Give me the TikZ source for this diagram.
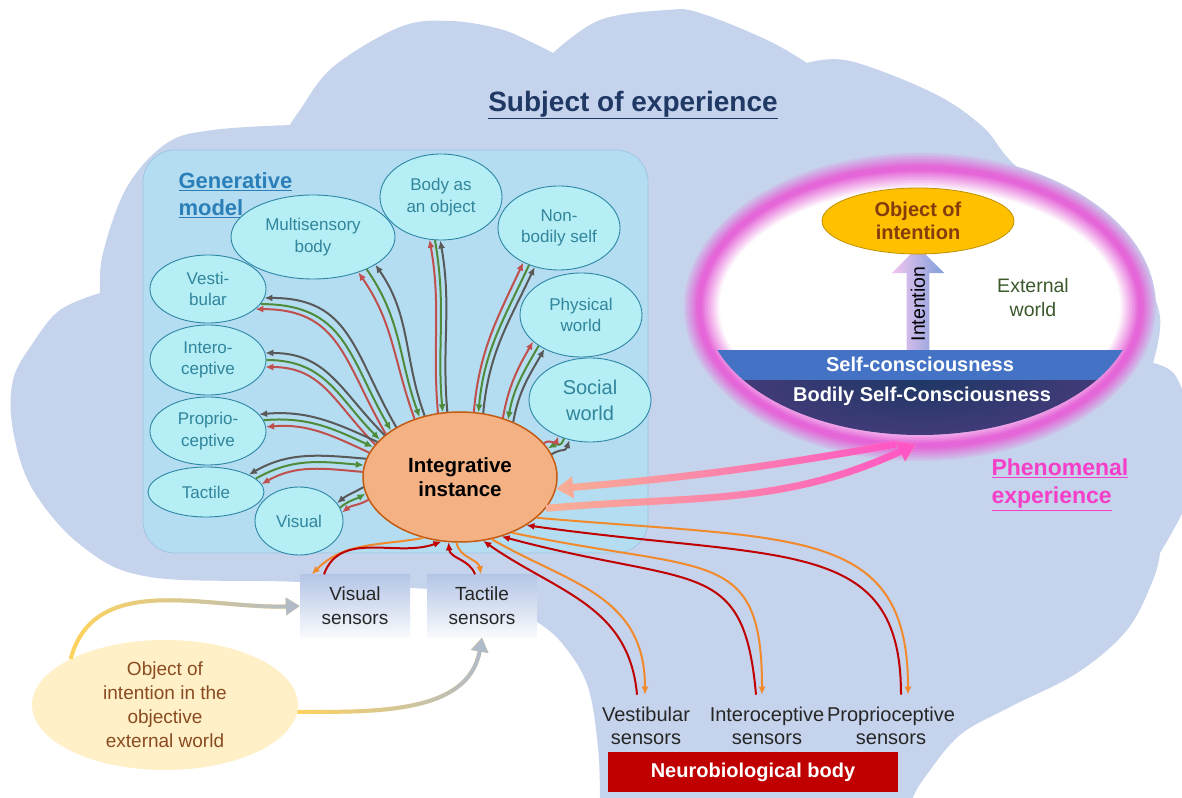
\documentclass[tikz,border=0pt]{standalone}
\usepackage{fontspec}
\setmainfont{Liberation Sans}
\usetikzlibrary{shapes.geometric,shapes.arrows,arrows.meta,fadings}

\definecolor{cloudc}{HTML}{C6D3EC}
\definecolor{gmfill}{HTML}{B4DDF1}
\definecolor{gmline}{HTML}{9EC6E2}
\definecolor{cyanfill}{HTML}{B5EEF4}
\definecolor{tealline}{HTML}{2E86A6}
\definecolor{tealtext}{HTML}{31859C}
\definecolor{gentext}{HTML}{2B7FB8}
\definecolor{titlec}{HTML}{1F3864}
\definecolor{iifill}{HTML}{F4B183}
\definecolor{iiline}{HTML}{C55A11}
\definecolor{lkgrayc}{HTML}{595959}
\definecolor{lkgreenc}{HTML}{4E8B3A}
\definecolor{lkredc}{HTML}{C0504D}
\definecolor{snorc}{HTML}{F08A2C}
\definecolor{snredc}{HTML}{C00000}
\definecolor{glowc}{HTML}{E566D8}
\definecolor{bandblue}{HTML}{4472C4}
\definecolor{bandnavy}{HTML}{1C3864}
\definecolor{bandpurple}{HTML}{8A3FA0}
\definecolor{oifill}{HTML}{FFC000}
\definecolor{oiline}{HTML}{BF9000}
\definecolor{oitext}{HTML}{843C0C}
\definecolor{extgreen}{HTML}{3C5A2C}
\definecolor{phenc}{HTML}{F53FC8}
\definecolor{sensboxc}{HTML}{B4C5E6}
\definecolor{objfill}{HTML}{FFF0C8}
\definecolor{objtext}{HTML}{8A4B20}
\definecolor{neuroc}{HTML}{C00000}
\definecolor{pinkarr}{HTML}{FF55C8}
\definecolor{peacharr}{HTML}{F8B193}
\definecolor{yelarr}{HTML}{FFD45C}
\definecolor{grayarr}{HTML}{B0BBCB}
\definecolor{inttop}{HTML}{7F9FDA}
\definecolor{intbot}{HTML}{F3C6F0}

\tikzfading[name=toright, left color=transparent!100, right color=transparent!0]

\newcommand{\fsz}[2]{\fontsize{#1}{#2}\selectfont}

\begin{document}
\begin{tikzpicture}[x=1pt, y=1pt, >={Latex[length=8pt,width=7pt]},
    gmnode/.style={ellipse, draw=tealline, line width=0.9pt, fill=cyanfill,
        text=tealtext, align=center, inner sep=0pt, font=\fsz{17}{21.5}},
    lkgray/.style={draw=lkgrayc, line width=2pt},
    lkgreen/.style={draw=lkgreenc, line width=2pt},
    lkred/.style={draw=lkredc, line width=2pt},
    snor/.style={draw=snorc, line width=2pt},
    snred/.style={draw=snredc, line width=2pt},
    sensbox/.style={rectangle, minimum width=110, minimum height=63,
        top color=sensboxc, bottom color=white!92!sensboxc, align=center,
        text=black!85, font=\fsz{19}{24}},
    senslabel/.style={align=center, inner sep=0pt, text=black!85, font=\fsz{20}{23.5}},
    bigarr/.style={line width=7pt, -{Triangle[length=17pt,width=21pt]}},
    objarr/.style={line width=4pt, -{Triangle[length=14pt,width=17pt]}}]

\fill[white] (0,0) rectangle (1182,797);
\useasboundingbox (0,0) rectangle (1182,797);

% cloud
\fill[cloudc]
  plot[smooth, tension=0.6] coordinates {(480,205) (300,215) (150,220) (83,250) (33,307) (13,367) (13,417) (33,454) (60,487) (100,504)}
  -- plot[smooth, tension=0.6] coordinates {(100,504) (103,544) (127,610) (167,654) (213,667) (290,672)}
  -- plot[smooth, tension=0.6] coordinates {(290,672) (300,687) (333,730) (400,770) (450,776) (500,768) (533,754) (553,744)}
  -- plot[smooth, tension=0.6] coordinates {(553,744) (600,777) (667,787) (700,784) (767,757) (807,734)}
  -- plot[smooth, tension=0.6] coordinates {(807,734) (850,736) (933,704) (983,670) (1017,630) (1100,567) (1140,527) (1160,480) (1153,434)}
  -- plot[smooth, tension=0.6] coordinates {(1153,434) (1175,422) (1190,380) (1195,330) (1185,290) (1160,244)}
  -- plot[smooth, tension=0.6] coordinates {(1160,244) (1153,217) (1127,167) (1077,124) (1010,90) (960,62) (925,20) (913,0) (910,-10)}
  -- (600,-10)
  -- plot[smooth, tension=0.6] coordinates {(600,-10) (600,0) (598,50) (588,110) (565,150) (537,175) (480,205)}
  -- cycle;

% generative model box
\node[rectangle, rounded corners=32pt, fill=gmfill, draw=gmline, line width=0.8pt,
      minimum width=505, minimum height=403] (gm) at (395.5,445.5) {};

% phenomenal glow
\foreach \k in {0,...,23}{
  \ifnum\k<9 \pgfmathsetmacro\pc{15+10*\k}\colorlet{gl}{glowc!\pc!cloudc}%
  \else\ifnum\k<12 \colorlet{gl}{glowc}%
  \else \pgfmathsetmacro\pc{100-8*(\k-11)}\colorlet{gl}{glowc!\pc!white}\fi\fi
  \fill[gl] (920,490) ellipse[x radius={236-1.5*\k}, y radius={154-1.5*\k}];
}
\fill[white] (920,490) ellipse[x radius=200, y radius=118];
\begin{scope}
  \clip (920,490) ellipse[x radius=215, y radius=128];
  \begin{scope}
    \clip (690,340) rectangle (1150,417);
    \shade[inner color=bandnavy, outer color=bandpurple] (420,250) rectangle (1420,590);
  \end{scope}
  \fill[bandblue] (690,417) rectangle (1150,447);
\end{scope}
\node[ellipse, minimum width=430, minimum height=256, inner sep=0pt] (pe) at (920,490) {};

% titles
\node[text=titlec, font=\bfseries\fsz{28}{32}] (title) at (633,692) {\underline{Subject of experience}};
\node[anchor=west, align=left, text=gentext, font=\bfseries\fsz{22}{27}] (gen) at (175,602)
  {\underline{Generative}\\\underline{model}};

% generative model
\node[gmnode, minimum width=164, minimum height=84] (mb) at (313,560) {Multisensory\\body};
\node[gmnode, minimum width=122, minimum height=86] (bo) at (441,600) {Body as\\an object};
\node[gmnode, minimum width=122, minimum height=84] (nb) at (559,569) {Non-\\bodily self};
\node[gmnode, minimum width=122, minimum height=84] (pw) at (581,482) {Physical\\world};
\node[gmnode, minimum width=122, minimum height=84, font=\fsz{20}{26}] (sw) at (590,397) {Social\\world};
\node[gmnode, minimum width=116, minimum height=68] (ve) at (208,508) {Vesti-\\bular};
\node[gmnode, minimum width=116, minimum height=70] (intero) at (208,437) {Intero-\\ceptive};
\node[gmnode, minimum width=116, minimum height=68] (pr) at (208,366) {Proprio-\\ceptive};
\node[gmnode, minimum width=116, minimum height=50] (ta) at (206,305) {Tactile};
\node[gmnode, minimum width=88, minimum height=68] (vi) at (299,276) {Visual};
\node[ellipse, draw=iiline, line width=1.5pt, fill=iifill, align=center, inner sep=0pt,
      minimum width=194, minimum height=130, font=\bfseries\fsz{20.5}{24}] (ii) at (460,320)
  {Integrative\\instance};

% phenomenal experience
\node[single arrow, rotate=90, anchor=tail, minimum height=103, single arrow head extend=15,
      inner sep=4pt, left color=intbot, right color=inttop, font=\fsz{19.5}{20}] (intent) at (918,447) {Intention};
\node[ellipse, draw=oiline, line width=0.8pt, fill=oifill, align=center, inner sep=0pt,
      minimum width=192, minimum height=66, text=oitext, font=\bfseries\fsz{20}{23}] (oi) at (918,576)
  {Object of\\intention};
\node[align=center, text=extgreen, font=\fsz{19.5}{24}] (ext) at (1033,499) {External\\world};
\node[text=white, font=\bfseries\fsz{20}{22}] (sc) at (920,433) {Self-consciousness};
\node[text=white, font=\bfseries\fsz{20}{22}] (bsc) at (922,401) {Bodily Self-Consciousness};
\node[anchor=west, align=left, text=phenc, font=\bfseries\fsz{23}{28}] (phen) at (988,312)
  {\underline{Phenomenal}\\\underline{experience}};

% sensors and body
\node[sensbox] (vs) at (355,191) {Visual\\sensors};
\node[sensbox] (ts) at (482,191) {Tactile\\sensors};
\node[ellipse, fill=objfill, align=center, inner sep=0pt, minimum width=266, minimum height=130,
      text=objtext, font=\fsz{19}{24}] (obj) at (165,92)
  {Object of\\intention in the\\objective\\external world};
\node[senslabel] (vb) at (646,71) {Vestibular\\sensors};
\node[senslabel] (intb) at (767,71) {Interoceptive\\sensors};
\node[senslabel] (pb) at (891,71) {Proprioceptive\\sensors};
\node[rectangle, fill=neuroc, minimum width=290, minimum height=40, text=white,
      font=\bfseries\fsz{20}{22}] (neuro) at (753,25) {Neurobiological body};

% links inside the generative model
\foreach \tg/\ta/\ia/\ou/\iu/\lo
  [evaluate=\ta as \tp using int(\ta+7), evaluate=\ta as \tm using int(\ta-7),
   evaluate=\ia as \ip using int(\ia+4), evaluate=\ia as \im using int(\ia-4)] in
  {mb/-31/124/-55/110/1, bo/262/105/-80/95/1, nb/231/74/-115/85/1,
   pw/216/50/-120/80/1, sw/236/18/-110/30/1.5, ve/-16/146/0/120/1.2,
   intero/0/155/0/135/1.1, pr/11/161/5/155/1, ta/15/173/30/175/1, vi/18/190/40/210/1}{
  \draw[lkgray,<-] (\tg.\tp) to[out=\ou,in=\iu,looseness=\lo] (ii.\im);
  \draw[lkgreen,->] (\tg.\ta) to[out=\ou,in=\iu,looseness=\lo] (ii.\ia);
  \draw[lkred,<-] (\tg.\tm) to[out=\ou,in=\iu,looseness=\lo] (ii.\ip);
}

% sensor links
\draw[snor,->] (ii.239) to[out=190,in=45] ([xshift=12]vs.north west);
\draw[snred,->] ([xshift=-31]vs.north) to[out=70,in=200] (ii.254);
\draw[snred,->] ([xshift=-7]ts.north) to[out=110,in=-85] (ii.260);
\draw[snor,->] (ii.267) to[out=-80,in=100] ([xshift=-1]ts.north);
\draw[snred,->] ([xshift=-9,yshift=12]vb.north) to[out=95,in=-35,out distance=90,in distance=90] (ii.290);
\draw[snor,->] (ii.297) to[out=-30,in=90,out distance=90,in distance=100] ([xshift=-1,yshift=12]vb.north);
\draw[snred,->] ([xshift=-11,yshift=12]intb.north) to[out=95,in=-15,out distance=140,in distance=200] (ii.305);
\draw[snor,->] (ii.313) to[out=-12,in=90,out distance=200,in distance=150] ([xshift=-5,yshift=12]intb.north);
\draw[snred,->] ([xshift=10,yshift=12]pb.north) to[out=90,in=-8,out distance=160,in distance=260] (ii.324);
\draw[snor,->] (ii.332) to[out=-5,in=90,out distance=260,in distance=170] ([xshift=17,yshift=12]pb.north);

% experience links
\draw[bigarr, peacharr] ([shift={(-24,-9)}]pe.south) to[out=190,in=5] (ii.353);
\draw[bigarr, pinkarr, path fading=toright] ([shift={(-24,-9)}]pe.south) to[out=190,in=5] (ii.353);
\draw[bigarr, peacharr] (ii.340) to[out=5,in=205] ([shift={(-4,-9)}]pe.south);
\draw[bigarr, pinkarr, path fading=toright] (ii.340) to[out=5,in=205] ([shift={(-4,-9)}]pe.south);

% objective world links
\draw[objarr, yelarr] (obj.154) to[out=75,in=182] (vs.west);
\draw[objarr, grayarr, path fading=toright] (obj.154) to[out=75,in=182] (vs.west);
\draw[objarr, yelarr] (obj.-3) to[out=0,in=-100] (ts.south);
\draw[objarr, grayarr, path fading=toright] (obj.-3) to[out=0,in=-100] (ts.south);
\end{tikzpicture}
\end{document}
